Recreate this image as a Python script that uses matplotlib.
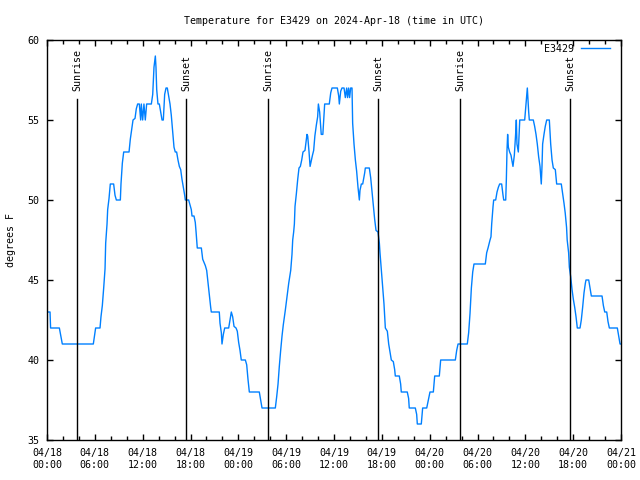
import numpy as np
import matplotlib
matplotlib.use('Agg')
import matplotlib.pyplot as plt
import matplotlib.dates as mdates

# hours since 2024-04-18 00:00 UTC, and temperature in F
hours = [
	0.16, 0.38, 0.45, 1.55, 1.92, 5.81, 6.10, 6.65, 6.77, 6.94, 7.11, 7.28, 7.36, 7.53,
	7.61, 7.78, 7.94, 8.36, 8.53, 8.70, 9.20, 9.28, 9.45, 9.62, 10.29, 10.45, 10.62, 10.79,
	11.04, 11.20, 11.37, 11.58, 11.75, 11.83, 12.00, 12.16, 12.33, 12.50, 13.09, 13.26,
	13.34, 13.42, 13.59, 13.67, 13.76, 13.92, 14.09, 14.26, 14.43, 14.59, 14.76, 14.93,
	15.09, 15.26, 15.43, 15.59, 15.76, 15.93, 16.09, 16.26, 16.43, 16.60, 16.77, 16.93,
	17.10, 17.27, 17.35, 17.77, 17.94, 18.10, 18.19, 18.44, 18.60, 18.70, 18.85, 19.36,
	19.53, 19.86, 20.03, 20.20, 20.36, 20.53, 20.61, 21.61, 21.70, 21.87, 21.95, 22.12,
	22.29, 22.79, 22.96, 23.12, 23.29, 23.46, 23.71, 23.87, 24.04, 24.21, 24.37, 24.88,
	25.05, 25.21, 25.38, 26.63, 26.80, 26.97, 28.64, 28.81, 28.98, 29.14, 29.31, 29.48,
	29.64, 29.89, 30.07, 30.32, 30.57, 30.73, 30.82, 30.94, 31.03, 31.11, 31.28, 31.45,
	31.61, 31.78, 31.95, 32.11, 32.36, 32.53, 32.61, 32.70, 32.87, 33.00, 33.30, 33.45,
	33.60, 33.79, 33.95, 34.04, 34.20, 34.40, 34.60, 34.83, 35.41, 35.59, 35.75, 36.42,
	36.59, 36.67, 36.84, 37.00, 37.26, 37.42, 37.59, 37.70, 37.84, 37.96, 38.09, 38.26,
	38.34, 38.51, 38.68, 38.84, 39.01, 39.18, 39.26, 39.43, 39.60, 39.85, 39.93, 40.43,
	40.60, 40.77, 40.93, 41.10, 41.27, 41.52, 41.69, 41.77, 41.94, 42.10, 42.27, 42.44,
	42.69, 42.86, 43.03, 43.19, 43.44, 43.61, 43.69, 44.19, 44.36, 44.44, 45.19, 45.36,
	45.44, 46.20, 46.37, 46.45, 46.95, 47.12, 47.63, 47.88, 48.04, 48.46, 48.63, 49.21,
	49.38, 51.22, 51.39, 51.56, 52.72, 52.89, 53.06, 53.23, 53.40, 53.56, 54.98, 55.15,
	55.32, 55.57, 55.69, 55.78, 55.95, 56.03, 56.28, 56.45, 56.62, 56.78, 57.03, 57.20,
	57.29, 57.54, 57.62, 57.70, 57.78, 57.87, 58.03, 58.20, 58.37, 58.45, 58.62, 58.78,
	58.87, 58.95, 59.12, 59.30, 59.92, 60.08, 60.17, 60.25, 60.33, 60.42, 60.50, 61.00,
	61.17, 61.34, 61.50, 61.67, 61.84, 62.00, 62.09, 62.17, 62.34, 62.50, 62.68, 63.01,
	63.18, 63.35, 63.51, 63.76, 63.93, 64.51, 64.68, 64.85, 65.00, 65.17, 65.25, 65.43,
	65.52, 65.69, 65.86, 66.02, 66.19, 66.36, 66.52, 66.86, 67.02, 67.19, 67.36, 67.53,
	67.61, 67.95, 68.11, 68.28, 69.62, 69.79, 69.96, 70.21, 70.37, 70.54, 71.54, 71.71,
	71.88, 72.00,
]
temps = [
	43, 43, 42, 42, 41, 41, 42, 42, 42.7, 43.4, 44.5, 45.7, 47.3, 48.5,
	49.4, 50.1, 51, 51, 50.3, 50, 50, 51, 52.3, 53, 53, 53.8, 54.4, 55,
	55.1, 55.7, 56, 56, 55, 56, 55, 56, 55, 56, 56, 56.6,
	57.5, 58.3, 59, 58.3, 56.9, 56, 56, 55.5, 55, 55, 56.6, 57,
	57, 56.5, 56, 55.3, 54.3, 53.3, 53, 53, 52.5, 52.1, 51.9, 51.3,
	50.8, 50.3, 50, 50, 49.7, 49.4, 49, 49, 48.6, 48, 47, 47,
	46.3, 45.9, 45.6, 44.8, 44, 43.3, 43, 43, 42.3, 41.7, 41, 41.6,
	42, 42, 42.5, 43, 42.7, 42.1, 42, 41.8, 41.1, 40.6, 40, 40,
	39.7, 38.8, 38, 38, 37.5, 37, 37, 37.7, 38.5, 39.6, 40.6, 41.5,
	42.2, 43.1, 43.8, 44.8, 45.6, 46.6, 47.5, 48, 48.5, 49.6, 50.4, 51.3,
	52, 52.1, 52.5, 53, 53.1, 53.8, 54.1, 54, 53, 52.1, 52.8, 53.1,
	54, 54.7, 55.2, 56, 55.5, 54.1, 54.1, 56, 56, 56.7, 57, 57,
	56.5, 56, 56.8, 57, 57, 56.4, 57, 56.4, 57, 56.4, 57, 57,
	54.8, 53.5, 52.5, 51.8, 50.8, 50, 50.6, 51, 51, 51.7, 52, 52,
	51.4, 50.5, 49.6, 48.8, 48.1, 48, 47.3, 46.7, 45.6, 44.6, 43.5, 42,
	41.8, 41, 40.5, 40, 39.9, 39.4, 39, 39, 38.5, 38, 38, 37.6,
	37, 37, 36.6, 36, 36, 37, 37, 37.6, 38, 38, 39, 39,
	40, 40, 40.6, 41, 41, 41.7, 42.9, 44.5, 45.5, 46, 46, 46.7,
	47, 47.5, 47.7, 48.5, 49.6, 50, 50, 50.5, 50.8, 51, 51, 50.3,
	50, 50, 51.3, 53.1, 54.1, 53.3, 53, 52.8, 52.3, 52.1, 52.8, 54.1,
	55, 53.5, 53, 55, 55, 56, 56.6, 57, 56.3, 55.5, 55, 55,
	54.6, 54.1, 53.5, 52.7, 52.1, 51, 52.1, 53.5, 54.1, 54.6, 55, 55,
	53.5, 52.5, 52, 51.9, 51, 51, 50.4, 49.8, 49.2, 48.3, 47.5, 46.7,
	45.8, 45.2, 44.4, 43.8, 43.3, 42.7, 42, 42, 42.5, 43.3, 44.2, 44.8,
	45, 45, 44.5, 44, 44, 43.4, 43, 43, 42.4, 42, 42, 41.5,
	41, 41,
]

sun_labels = ['Sunrise', 'Sunset', 'Sunrise', 'Sunset', 'Sunrise', 'Sunset']
sun_times = ['2024-04-18T03:48', '2024-04-18T17:28', '2024-04-19T03:46',
	'2024-04-19T17:34', '2024-04-20T03:51', '2024-04-20T17:38']

start = np.datetime64('2024-04-18T00:00')
times = start + (np.array(hours) * 3600).astype('timedelta64[s]')

font = 'DejaVu Sans Mono'
fs = 7.2

fig = plt.figure(figsize=(6.4, 4.8), dpi=100)
ax = fig.add_axes([47/640, 40/480, 574/640, 400/480])

ax.plot(times, temps, color='#0080ff', lw=1, label='E3429')

# sunrise / sunset markers
for lab, t in zip(sun_labels, sun_times):
	t = np.datetime64(t)
	ax.plot([t, t], [35, 56.3], color='black', lw=1)
	ax.text(t, 56.8, lab, rotation=90, ha='center', va='bottom',
		family=font, fontsize=fs)

ax.set_xlim(start, np.datetime64('2024-04-21T00:00'))
ax.set_ylim(35, 60)
ax.set_yticks([35, 40, 45, 50, 55, 60])

ax.xaxis.set_major_locator(mdates.HourLocator(byhour=[0, 6, 12, 18]))
ax.xaxis.set_minor_locator(mdates.HourLocator(byhour=range(0, 24, 2)))
ax.xaxis.set_major_formatter(mdates.DateFormatter('%m/%d\n%H:%M'))

ax.tick_params(which='both', direction='in', top=True, right=True, width=1,
	colors='black', labelsize=fs)
ax.tick_params(which='major', length=4.5)
ax.tick_params(which='minor', length=3)
ax.tick_params(axis='y', pad=5.5)
ax.tick_params(axis='x', pad=6)
for lbl in ax.get_xticklabels() + ax.get_yticklabels():
	lbl.set_family(font)

for s in ax.spines.values():
	s.set_linewidth(1)
	s.set_color('black')

ax.set_title('Temperature for E3429 on 2024-Apr-18 (time in UTC)',
	family=font, fontsize=fs, pad=11.5)
ax.set_ylabel('degrees F', family=font, fontsize=fs)
ax.yaxis.set_label_coords(-0.0535, 0.5)

leg = ax.legend(loc='upper right', bbox_to_anchor=(0.981, 0.99), frameon=False,
	markerfirst=False, handlelength=2.9, handletextpad=0.7, borderaxespad=0,
	borderpad=0, prop={'family': font, 'size': fs})

fig.savefig('out.png', dpi=100)
